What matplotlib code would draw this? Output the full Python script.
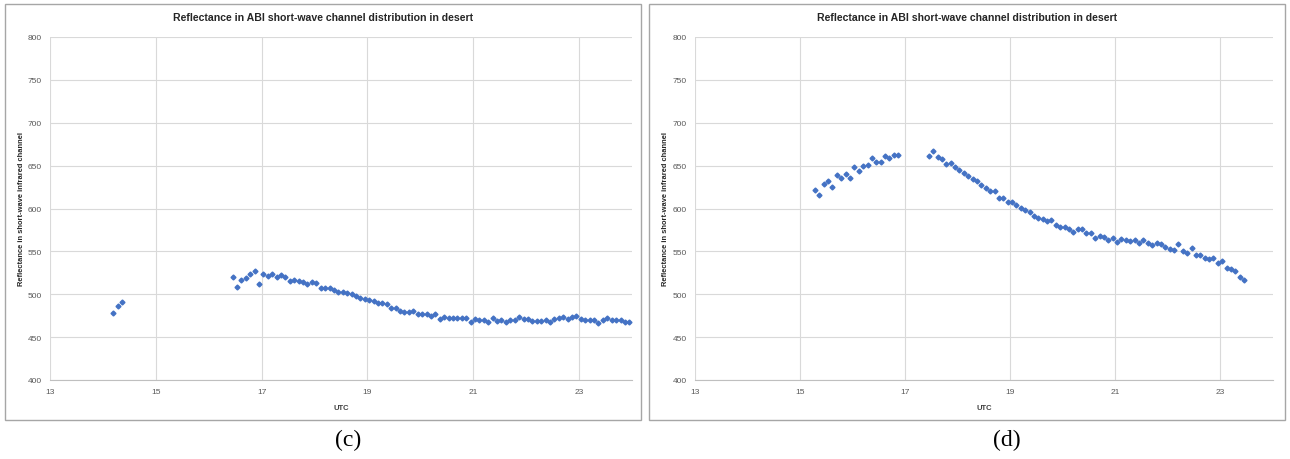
import numpy as np
import matplotlib.pyplot as plt
from matplotlib.patches import Rectangle

plt.rcParams['font.family'] = ['Liberation Sans', 'DejaVu Sans']

# scans come every 5 minutes; each run is (start "HH:MM", reflectance values)
step_min = 5

c_runs = [
    ("14:12", [477.7, 486.6, 491.3]),
    ("16:27", [520, 509, 516.5, 518.5, 524, 527.4, 511.5, 524, 521.6, 523.5,
               519.6, 522, 519.6, 516, 516.5, 516, 514.6, 512.2, 514.6, 512.6,
               506.8, 506.8, 507.6, 504.5, 502.1, 502.9, 501.3, 500.6, 497.5, 495.5,
               494, 492.8, 492.4, 489.3, 489.7, 488.2, 484.3, 483.5, 480, 479.6,
               479.6, 480.4, 476.9, 476.5, 476.9, 475, 476.5, 471, 473.4, 472.6,
               472.6, 471.8, 472.2, 472.2, 467.6, 471, 470.3, 469.9, 468, 471.8,
               468.3, 470.3, 467.6, 470.3, 469.9, 473, 471.5, 470.7, 468.3, 468.7,
               469.1, 469.5, 468, 470.7, 471.8, 473.4, 470.7, 473, 475, 470.7,
               470.3, 469.9, 469.9, 466.4, 470.3, 471.8, 470.3, 469.5, 469.9, 467.2,
               467.6]),
]

d_runs = [
    ("15:17", [622.1, 616.3, 628, 632.2, 625.6, 638.8, 635.7, 640.8, 635.7, 648.2,
               643.9, 649.7, 650.9, 659, 654.4, 654.4, 661, 659.4, 662.5, 662.1]),
    ("17:27", [661.7, 667.2, 660.6, 658.3, 652, 652.8, 648.2, 645, 641.9, 638.4,
               634.6, 631.8, 627.6, 623.7, 620.2, 620.2, 611.7, 611.7, 607, 607,
               603.5, 600.4, 598.4, 595.7, 591.1, 588.7, 587.9, 585.2, 586.8, 581,
               578.6, 578.3, 576.3, 572.8, 576.3, 575.9, 570.9, 570.9, 565.4, 567.4,
               566.6, 563.1, 565.8, 560.8, 564.7, 563.5, 561.6, 563.5, 560, 562.7,
               559.6, 557.3, 559.2, 558.8, 555.3, 552.2, 551.1, 558.4, 549.9, 547.6,
               554.2, 545.2, 545.6, 541.7, 540.9, 542.5, 536.3, 539, 530.1, 529.7,
               526.6, 520, 516.1]),
]

title = "Reflectance in ABI short-wave channel distribution in desert"
ylab = "Reflectance in short-wave infrared channel"
xticks = [13, 15, 17, 19, 21, 23]
yticks = [400, 450, 500, 550, 600, 650, 700, 750, 800]


def to_xy(runs):
    xs, ys = [], []
    for start, vals in runs:
        h, m = start.split(":")
        t0 = int(h) + int(m) / 60
        xs += [t0 + i * step_min / 60 for i in range(len(vals))]
        ys += vals
    return np.array(xs), np.array(ys)


fig = plt.figure(figsize=(12.9, 4.6), dpi=100)
W, H = 1290, 460

# frame box, plot area (pixels), caption x position
panels = [
    (c_runs, "(c)", (5, 5, 641, 421), (50, 38, 632, 381), 348),
    (d_runs, "(d)", (649, 5, 1285, 421), (695, 38, 1273, 381), 1007),
]

for runs, cap, frame, plot, capx in panels:
    fx0, fy0, fx1, fy1 = frame
    fig.patches.append(Rectangle((fx0 / W, 1 - fy1 / H), (fx1 - fx0) / W, (fy1 - fy0) / H,
                                 transform=fig.transFigure, fill=False,
                                 edgecolor="#a6a6a6", linewidth=1.0))
    px0, py0, px1, py1 = plot
    ax = fig.add_axes([px0 / W, 1 - py1 / H, (px1 - px0) / W, (py1 - py0) / H])

    x, y = to_xy(runs)
    ax.plot(x, y, linestyle="none", marker="D", markersize=2.5, color="#4472c4")

    ax.set_xlim(13, 24)
    ax.set_ylim(400, 800)
    ax.set_xticks(xticks)
    ax.set_yticks(yticks)
    ax.grid(True, color="#d9d9d9", linewidth=0.8)
    ax.set_axisbelow(True)
    for s in ["top", "right", "left"]:
        ax.spines[s].set_visible(False)
    ax.spines["bottom"].set_color("#bfbfbf")
    ax.tick_params(length=0, labelsize=6, colors="#595959", pad=6)

    # title is centred on the chart frame, not the plot area
    tx = ((fx0 + fx1) / 2 - px0) / (px1 - px0)
    ax.set_title(title, fontsize=7.6, fontweight="bold", color="#262626", pad=12, x=tx)
    ax.set_xlabel("UTC", fontsize=5.5, fontweight="bold", color="#404040")
    ax.set_ylabel(ylab, fontsize=5.4, fontweight="bold", color="#262626")
    ax.xaxis.set_label_coords(0.5, (381 - 405) / (py1 - py0))
    ax.yaxis.set_label_coords((fx0 + 20 - px0) / (px1 - px0), 0.5)

    fig.text(capx / W, 1 - 440 / H, cap, ha="center", va="center",
             fontsize=17, family="Liberation Serif")

fig.savefig("out.png", dpi=100)
